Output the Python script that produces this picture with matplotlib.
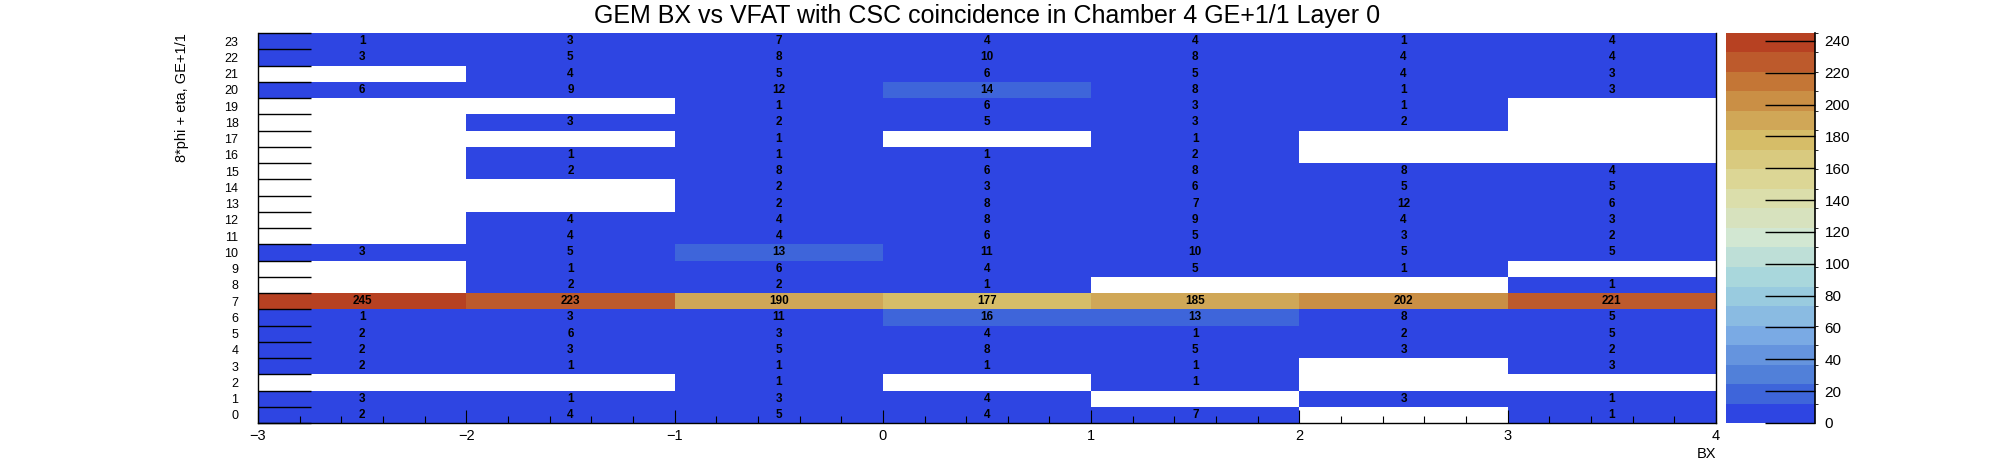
import numpy as np
import matplotlib
matplotlib.use("Agg")
import matplotlib.pyplot as plt
from matplotlib import font_manager
from matplotlib.colors import ListedColormap, BoundaryNorm
from matplotlib.ticker import MultipleLocator, FixedLocator, NullFormatter


def pick_font(names):
    for n in names:
        try:
            font_manager.findfont(n, fallback_to_default=False)
            return n
        except Exception:
            pass
    return "DejaVu Sans"


MAIN_FONT = pick_font(["Liberation Sans", "Arial", "DejaVu Sans"])
NARROW_FONT = pick_font(["Liberation Sans Narrow", "Liberation Sans", "DejaVu Sans"])
plt.rcParams["font.family"] = MAIN_FONT

title = "GEM BX vs VFAT with CSC coincidence in Chamber 4 GE+1/1 Layer 0"
x_title = "BX"
y_title = "8*phi + eta, GE+1/1"

bx_edges = [-3, -2, -1, 0, 1, 2, 3, 4]
vfat_rows = list(range(24))

# counts[row][bx bin], row 0 .. 23, bins -3..-2 ... 3..4
counts = [
    [2, 4, 5, 4, 7, 0, 1],          # 0
    [3, 1, 3, 4, 0, 3, 1],          # 1
    [0, 0, 1, 0, 1, 0, 0],          # 2
    [2, 1, 1, 1, 1, 0, 3],          # 3
    [2, 3, 5, 8, 5, 3, 2],          # 4
    [2, 6, 3, 4, 1, 2, 5],          # 5
    [1, 3, 11, 16, 13, 8, 5],       # 6
    [245, 223, 190, 177, 185, 202, 221],  # 7
    [0, 2, 2, 1, 0, 0, 1],          # 8
    [0, 1, 6, 4, 5, 1, 0],          # 9
    [3, 5, 13, 11, 10, 5, 5],       # 10
    [0, 4, 4, 6, 5, 3, 2],          # 11
    [0, 4, 4, 8, 9, 4, 3],          # 12
    [0, 0, 2, 8, 7, 12, 6],         # 13
    [0, 0, 2, 3, 6, 5, 5],          # 14
    [0, 2, 8, 6, 8, 8, 4],          # 15
    [0, 1, 1, 1, 2, 0, 0],          # 16
    [0, 0, 1, 0, 1, 0, 0],          # 17
    [0, 3, 2, 5, 3, 2, 0],          # 18
    [0, 0, 1, 6, 3, 1, 0],          # 19
    [6, 9, 12, 14, 8, 1, 3],        # 20
    [0, 4, 5, 6, 5, 4, 3],          # 21
    [3, 5, 8, 10, 8, 4, 4],         # 22
    [1, 3, 7, 4, 4, 1, 4],          # 23
]

# ROOT kLightTemperature palette stops
pal_r = [31, 71, 123, 160, 210, 222, 214, 199, 183]
pal_g = [40, 117, 171, 211, 231, 220, 190, 132, 65]
pal_b = [234, 214, 228, 222, 210, 160, 105, 60, 34]
n_levels = 20

z = np.array(counts, dtype=float)
z_masked = np.ma.masked_equal(z, 0)
zmax = z.max()

stops = np.linspace(0, 1, len(pal_r))
band_colors = []
for i in range(n_levels):
    idx = int((i + 0.99) * 255 / n_levels)
    p = min(idx, 254) / 254.0
    band_colors.append((np.interp(p, stops, pal_r) / 255,
                        np.interp(p, stops, pal_g) / 255,
                        np.interp(p, stops, pal_b) / 255))
cmap = ListedColormap(band_colors)
cmap.set_over(band_colors[-1])
levels = np.linspace(0, zmax, n_levels + 1)
norm = BoundaryNorm(levels, cmap.N)

W, H = 1996, 472
fig = plt.figure(figsize=(W / 100, H / 100), dpi=100)
ax = fig.add_axes([258 / W, (H - 423) / H, (1716 - 258) / W, (423 - 33) / H])
cax = fig.add_axes([1726 / W, (H - 423) / H, (1815 - 1726) / W, (423 - 33) / H])

y_edges = np.arange(len(vfat_rows) + 1) - 0.5
mesh = ax.pcolormesh(bx_edges, y_edges, z_masked, cmap=cmap, norm=norm)

x_centers = [(bx_edges[i] + bx_edges[i + 1]) / 2 for i in range(len(bx_edges) - 1)]
for r in vfat_rows:
    for c, xc in enumerate(x_centers):
        v = counts[r][c]
        if v != 0:
            ax.text(xc, r, "%d" % v, ha="center", va="center", fontsize=8.5,
                    fontweight="bold", family=NARROW_FONT, color="black")

ax.set_xlim(bx_edges[0], bx_edges[-1])
ax.set_ylim(y_edges[0], y_edges[-1])

ax.xaxis.set_minor_locator(MultipleLocator(0.2))
ax.set_xticks(bx_edges)
ax.set_xticklabels(["\u2212%d" % -b if b < 0 else "%d" % b for b in bx_edges], fontsize=10.5)
ax.tick_params(axis="x", which="major", direction="in", length=9.5, width=0.8, pad=4, top=False)
ax.tick_params(axis="x", which="minor", direction="in", length=4.8, width=0.8, top=False)

ax.yaxis.set_major_locator(FixedLocator(y_edges))
ax.yaxis.set_major_formatter(NullFormatter())
ax.yaxis.set_minor_locator(FixedLocator(vfat_rows))
ax.set_yticklabels([str(r) for r in vfat_rows], minor=True, fontsize=9, family=NARROW_FONT)
ax.tick_params(axis="y", which="major", direction="in", length=38, width=1.0, right=False)
ax.tick_params(axis="y", which="minor", length=0, pad=14, right=False)

ax.spines["top"].set_visible(False)
for s in ["left", "bottom", "right"]:
    ax.spines[s].set_linewidth(1.0)

ax.set_xlabel(x_title, loc="right", fontsize=10.5, labelpad=3)
ax.text(-0.052, 1.0, y_title, rotation=90, ha="center", va="top",
        fontsize=10.5, transform=ax.transAxes)

fig.text(987 / W, 1 - 16 / H, title, ha="center", va="center", fontsize=18)

cb = fig.colorbar(mesh, cax=cax, ticks=np.arange(0, zmax, 20), spacing="proportional")
cb.outline.set_visible(False)
cax.axvline(1, color="black", lw=1.2, clip_on=False)
cax.tick_params(axis="y", direction="in", length=36, width=1.0, pad=7,
                labelsize=11, right=True, left=False)
cax.yaxis.set_ticks_position("right")

fig.savefig("out.png", dpi=100)
